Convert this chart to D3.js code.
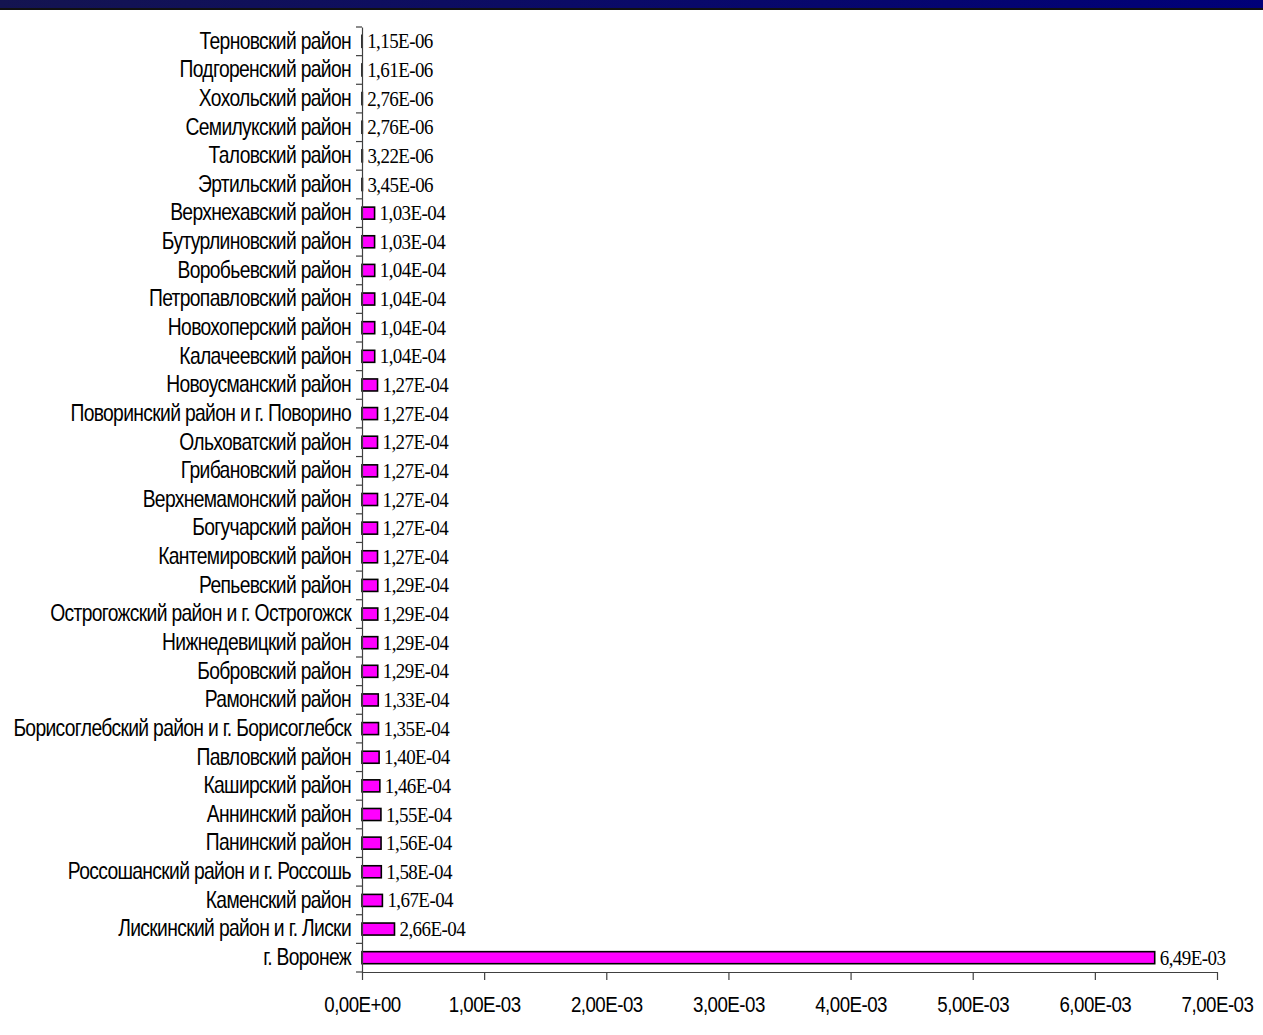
<!DOCTYPE html>
<html>
<head>
<meta charset="utf-8">
<script src="https://cdn.jsdelivr.net/npm/d3@7"></script>
<style>
  html, body { margin: 0; padding: 0; background: #fff; }
  svg { display: block; }
</style>
</head>
<body>
<svg id="chart" width="1263" height="1035"></svg>
<script>
// Districts of Voronezh region, top to bottom
const districts = [
  "Терновский район", "Подгоренский район", "Хохольский район", "Семилукский район",
  "Таловский район", "Эртильский район", "Верхнехавский район", "Бутурлиновский район",
  "Воробьевский район", "Петропавловский район", "Новохоперский район", "Калачеевский район",
  "Новоусманский район", "Поворинский район и г. Поворино", "Ольховатский район",
  "Грибановский район", "Верхнемамонский район", "Богучарский район", "Кантемировский район",
  "Репьевский район", "Острогожский район и г. Острогожск", "Нижнедевицкий район",
  "Бобровский район", "Рамонский район", "Борисоглебский район и г. Борисоглебск",
  "Павловский район", "Каширский район", "Аннинский район", "Панинский район",
  "Россошанский район и г. Россошь", "Каменский район", "Лискинский район и г. Лиски",
  "г. Воронеж"
];
const values = [
  1.15e-6, 1.61e-6, 2.76e-6, 2.76e-6, 3.22e-6, 3.45e-6, 1.03e-4, 1.03e-4,
  1.04e-4, 1.04e-4, 1.04e-4, 1.04e-4, 1.27e-4, 1.27e-4, 1.27e-4, 1.27e-4,
  1.27e-4, 1.27e-4, 1.27e-4, 1.29e-4, 1.29e-4, 1.29e-4, 1.29e-4, 1.33e-4,
  1.35e-4, 1.40e-4, 1.46e-4, 1.55e-4, 1.56e-4, 1.58e-4, 1.67e-4, 2.66e-4,
  6.49e-3
];
const xTicks = [0, 1e-3, 2e-3, 3e-3, 4e-3, 5e-3, 6e-3, 7e-3];

const rows = districts.map((name, i) => ({ name, value: values[i] }));

// Scientific notation with comma decimal: 1,15E-06
function sci(v) {
  if (v === 0) return "0,00E+00";
  const [m, e] = v.toExponential(2).split("e");
  const n = +e;
  const exp = (n < 0 ? "-" : "+") + String(Math.abs(n)).padStart(2, "0");
  return m.replace(".", ",") + "E" + exp;
}

const svg = d3.select("#chart");
const W = 1263, H = 1035;
const margin = { left: 362, right: 46, top: 27, bottom: 63 };
const SANS = "'Liberation Sans', Arial, sans-serif";
const SERIF = "'Liberation Serif', 'Times New Roman', serif";
const AXIS = "#404040";

// Title strip
const defs = svg.append("defs");
const grad = defs.append("linearGradient").attr("id", "strip").attr("x1", 0).attr("x2", 1);
grad.append("stop").attr("offset", "0%").attr("stop-color", "#141450");
grad.append("stop").attr("offset", "50%").attr("stop-color", "#0a0a68");
grad.append("stop").attr("offset", "100%").attr("stop-color", "#000078");
svg.append("rect").attr("x", 0).attr("y", 0).attr("width", W).attr("height", 8).attr("fill", "url(#strip)");
svg.append("rect").attr("x", 0).attr("y", 8).attr("width", W).attr("height", 2).attr("fill", "#111");

const x = d3.scaleLinear().domain([0, 7e-3]).range([margin.left, W - margin.right]);
const y = d3.scaleBand().domain(districts).range([margin.top, H - margin.bottom]).paddingInner(0.58).paddingOuter(0.29);

// Bars
svg.append("g").selectAll("rect").data(rows).join("rect")
  .attr("x", x(0))
  .attr("y", d => y(d.name))
  .attr("width", d => x(d.value) - x(0))
  .attr("height", y.bandwidth())
  .attr("fill", "#ff00ff")
  .attr("stroke", "#000")
  .attr("stroke-width", 1.6);

// Value labels (condensed serif)
const VSX = 0.95;
svg.append("g").selectAll("text").data(rows).join("text")
  .attr("transform", d => `translate(${x(d.value) + 5},${y(d.name) + y.bandwidth() / 2}) scale(${VSX},1)`)
  .attr("dy", "0.35em")
  .attr("font-family", SERIF)
  .attr("font-size", 20)
  .attr("letter-spacing", "-0.6px")
  .attr("fill", "#000")
  .text(d => sci(d.value));

// Category axis (condensed sans labels)
const CSX = 0.84;
const yAxis = d3.axisLeft(y).tickSize(0).tickPadding(11);
const gy = svg.append("g").attr("transform", `translate(${x(0)},0)`).call(yAxis);
gy.select(".domain").attr("stroke", AXIS).attr("stroke-width", 1.2);
gy.selectAll("text")
  .attr("x", -11 / CSX)
  .attr("transform", `scale(${CSX},1)`)
  .attr("font-family", SANS)
  .attr("font-size", 23)
  .attr("letter-spacing", "-0.8px")
  .attr("fill", "#000");
// Tick marks at category boundaries
const step = y.step();
const bounds = d3.range(districts.length + 1).map(i => margin.top + i * step);
svg.append("g").selectAll("line").data(bounds).join("line")
  .attr("x1", x(0) - 6).attr("x2", x(0))
  .attr("y1", d => d).attr("y2", d => d)
  .attr("stroke", AXIS).attr("stroke-width", 1.2);

// Value axis
const TSX = 0.85;
const xAxis = d3.axisBottom(x).tickValues(xTicks).tickFormat(sci).tickSizeInner(8).tickSizeOuter(0).tickPadding(16);
const gx = svg.append("g").attr("transform", `translate(0,${H - margin.bottom})`).call(xAxis);
gx.select(".domain").attr("stroke", AXIS).attr("stroke-width", 1.2);
gx.selectAll(".tick line").attr("stroke", AXIS).attr("stroke-width", 1.2);
gx.selectAll("text")
  .attr("transform", `scale(${TSX},1)`)
  .attr("font-family", SANS)
  .attr("font-size", 22)
  .attr("letter-spacing", "-0.6px")
  .attr("fill", "#000");
</script>
</body>
</html>
